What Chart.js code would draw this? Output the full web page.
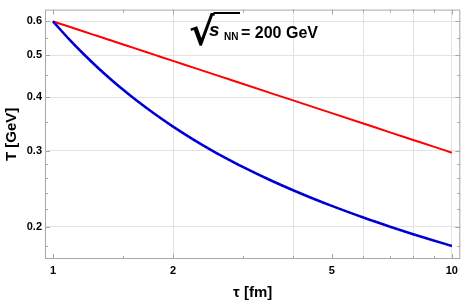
<!DOCTYPE html>
<html>
<head>
<meta charset="utf-8">
<script src="https://cdn.jsdelivr.net/npm/chart.js@4.4.1/dist/chart.umd.min.js"></script>
<style>
html,body{margin:0;padding:0;background:#fff;}
canvas{display:block;}
</style>
</head>
<body>
<canvas id="c" width="463" height="305"></canvas>
<script>
// ---- data ----
const tau = [1, 1.1, 1.2, 1.3, 1.4, 1.5, 1.6, 1.8, 2, 2.25, 2.5, 2.75, 3, 3.5, 4, 4.5, 5, 6, 7, 8, 9, 10];
const tempIdeal = [0.6, 0.5828, 0.5675, 0.5539, 0.5415, 0.5302, 0.5199, 0.5015, 0.4856, 0.4685, 0.4537, 0.4407, 0.4291, 0.4094, 0.3931, 0.3793, 0.3673, 0.3474, 0.3314, 0.3182, 0.3070, 0.2972];
const tempHydro = [0.6, 0.5442, 0.5012, 0.4670, 0.4391, 0.4160, 0.3965, 0.3655, 0.3418, 0.3189, 0.3011, 0.2869, 0.2751, 0.2568, 0.2431, 0.2323, 0.2236, 0.2101, 0.2001, 0.1922, 0.1858, 0.1805];
const xTickLabels = [1, 2, 5, 10];
const xMinorTicks = [1.5, 3, 4, 6, 7, 8, 9];
const xGridValues = [2, 4, 6, 8, 10];
const yTickLabels = [0.2, 0.3, 0.4, 0.5, 0.6];
const yMinorTicks = [0.18, 0.22, 0.24, 0.26, 0.28, 0.35, 0.45, 0.55];

const pts = (xs, ys) => xs.map((x, i) => ({x: x, y: ys[i]}));
const near = (arr, v) => arr.some(a => Math.abs(a - v) < 1e-9);

const FONT = "'Liberation Sans', Arial, Helvetica, sans-serif";
Chart.defaults.color = '#000';
Chart.defaults.font.family = FONT;

const frameColor = '#a8a8a8';

const frameTicks = {
  id: 'frameTicks',
  beforeDatasetsDraw(chart) {
    const {ctx, chartArea: a, scales: {x, y}} = chart;
    ctx.save();
    ctx.strokeStyle = frameColor;
    ctx.lineWidth = 1;
    ctx.strokeRect(a.left + 0.5, a.top + 0.5, a.right - a.left - 1, a.bottom - a.top - 1);
    const tick = (vals, len, isX) => {
      vals.forEach(v => {
        ctx.beginPath();
        if (isX) {
          const px = Math.round(x.getPixelForValue(v)) + 0.5;
          ctx.moveTo(px, a.bottom); ctx.lineTo(px, a.bottom - len);
          ctx.moveTo(px, a.top); ctx.lineTo(px, a.top + len);
        } else {
          const py = Math.round(y.getPixelForValue(v)) + 0.5;
          ctx.moveTo(a.left, py); ctx.lineTo(a.left + len, py);
          ctx.moveTo(a.right, py); ctx.lineTo(a.right - len, py);
        }
        ctx.stroke();
      });
    };
    tick(xTickLabels, 5, true);
    tick(xMinorTicks, 3, true);
    tick(yTickLabels, 5, false);
    tick(yMinorTicks, 3, false);
    ctx.restore();
  }
};

const annotation = {
  id: 'annotation',
  afterDraw(chart) {
    const ctx = chart.ctx;
    ctx.save();
    ctx.fillStyle = '#000';
    const rad = '\u221A';
    ctx.font = "bold 100px 'DejaVu Sans'";
    const m = ctx.measureText(rad);
    const h = m.actualBoundingBoxAscent + m.actualBoundingBoxDescent;
    const size = 100 * 33 / h;
    ctx.font = "bold " + size.toFixed(2) + "px 'DejaVu Sans'";
    const m2 = ctx.measureText(rad);
    const top = 12;
    const baseY = top + m2.actualBoundingBoxAscent;
    const leftX = 190 + m2.actualBoundingBoxLeft;
    ctx.textBaseline = 'alphabetic';
    ctx.fillText(rad, leftX, baseY);
    const radRight = leftX + m2.actualBoundingBoxRight;
    ctx.strokeStyle = '#000';
    ctx.lineWidth = 2;
    ctx.beginPath();
    ctx.moveTo(radRight - 1.5, top + 1);
    ctx.lineTo(240, top + 1);
    ctx.stroke();
    ctx.font = "italic bold 19px " + FONT;
    ctx.fillText('s', 209, 36);
    ctx.font = "bold 10px " + FONT;
    ctx.fillText('NN', 224, 40);
    ctx.font = "bold 16px " + FONT;
    ctx.fillText('= 200 GeV', 241, 37.5);
    ctx.restore();
  }
};

new Chart(document.getElementById('c'), {
  type: 'line',
  data: {
    datasets: [
      {data: pts(tau, tempIdeal), borderColor: '#ff0000', borderWidth: 2, pointRadius: 0, cubicInterpolationMode: 'monotone', order: 3},
      {data: pts(tau, tempHydro), borderColor: '#0000ff', borderWidth: 2.6, pointRadius: 0, cubicInterpolationMode: 'monotone', order: 2},
      {data: pts(tau, tempHydro), borderColor: '#000000', borderWidth: 1.2, borderDash: [1.5, 3], pointRadius: 0, cubicInterpolationMode: 'monotone', order: 1}
    ]
  },
  options: {
    responsive: false,
    animation: false,
    devicePixelRatio: 1,
    layout: {padding: {left: 0, right: 2, top: 3, bottom: 0}},
    plugins: {legend: {display: false}, tooltip: {enabled: false}},
    scales: {
      x: {
        type: 'logarithmic',
        min: 0.955, max: 10.5,
        afterBuildTicks: s => { s.ticks = [1, 2, 4, 5, 6, 8, 10].map(v => ({value: v})); },
        afterFit: s => { s.height = 46; },
        ticks: {
          autoSkip: false, maxRotation: 0, padding: 5,
          font: {size: 11, weight: 'bold'},
          callback: v => near(xTickLabels, v) ? String(v) : ''
        },
        grid: {
          drawTicks: false,
          color: c => (c.tick && near(xGridValues, c.tick.value)) ? '#e2e2e2' : 'rgba(0,0,0,0)'
        },
        border: {display: false},
        title: {display: true, text: 'τ [fm]', font: {size: 15, weight: 'bold'}, padding: {top: 0, bottom: 3}}
      },
      y: {
        type: 'logarithmic',
        min: 0.1683, max: 0.639,
        afterBuildTicks: s => { s.ticks = yTickLabels.map(v => ({value: v})); },
        afterFit: s => { s.width = 45; },
        ticks: {
          autoSkip: false, padding: 3,
          font: {size: 11, weight: 'bold'},
          callback: v => near(yTickLabels, v) ? v.toFixed(1) : ''
        },
        grid: {drawTicks: false, color: '#e2e2e2'},
        border: {display: false},
        title: {display: true, text: 'T [GeV]', font: {size: 15, weight: 'bold'}, padding: {top: 3, bottom: 0}}
      }
    }
  },
  plugins: [frameTicks, annotation]
});
</script>
</body>
</html>
